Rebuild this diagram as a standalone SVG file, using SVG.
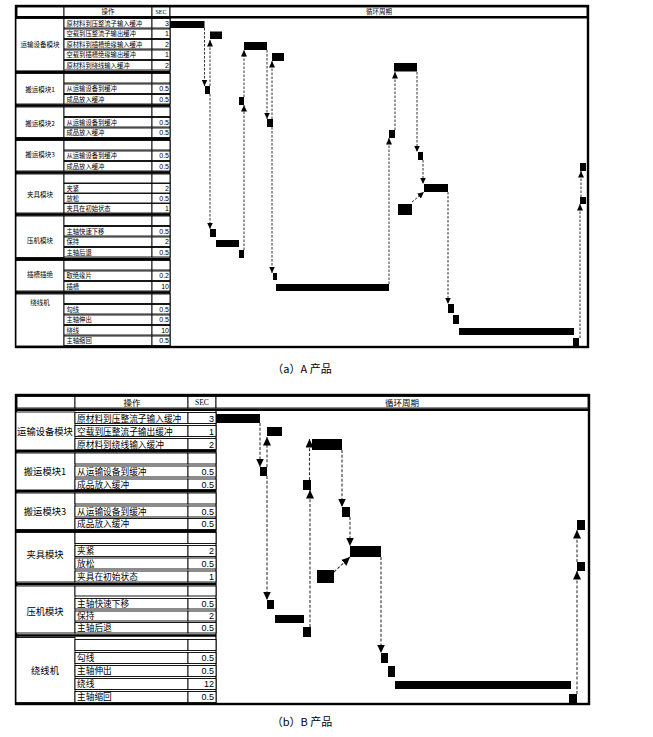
<svg xmlns="http://www.w3.org/2000/svg" width="653" height="737" viewBox="0 0 653 737">
<defs>
<style>
.frame{fill:none;stroke:#000;stroke-width:2.4}
.cell{fill:#fff;stroke:#000;stroke-width:0.9}
.sep{stroke:#000;stroke-width:2.4}
.vl{stroke:#000;stroke-width:1.2}
.bar{fill:#000}
.da{stroke:#333;stroke-width:1;stroke-dasharray:2.5 1.5;fill:none}
.db{stroke:#333;stroke-width:1.1;stroke-dasharray:3 1.8;fill:none}
text{fill:#000}
.ta{font-family:"Noto Sans CJK SC","Noto Sans",sans-serif;font-size:6.3px}
.ga{font-family:"Noto Sans CJK SC","Noto Sans",sans-serif;font-size:6.5px;text-anchor:middle}
.na{font-family:"Liberation Sans",sans-serif;font-size:7px;text-anchor:end}
.ha{font-family:"Noto Sans CJK SC","Noto Sans",sans-serif;font-size:6.5px;text-anchor:middle}
.tb{font-family:"Noto Sans CJK SC","Noto Sans",sans-serif;font-size:8.7px}
.gb{font-family:"Noto Sans CJK SC","Noto Sans",sans-serif;font-size:9.3px;text-anchor:middle}
.nb{font-family:"Liberation Sans",sans-serif;font-size:9px;text-anchor:end}
.hb{font-family:"Noto Sans CJK SC","Noto Sans",sans-serif;font-size:8.5px;text-anchor:middle}
.sec{font-family:"Liberation Serif",serif;text-anchor:middle}
.cap{font-family:"Noto Sans CJK SC",sans-serif;font-size:11px;text-anchor:middle}
</style>
<marker id="ha" markerUnits="userSpaceOnUse" markerWidth="7" markerHeight="6" refX="6.5" refY="3" orient="auto"><path d="M0,0 L6.5,3 L0,6 z" fill="#000"/></marker>
<marker id="hb" markerUnits="userSpaceOnUse" markerWidth="9" markerHeight="8" refX="8.5" refY="4" orient="auto"><path d="M0,0 L8.5,4 L0,8 z" fill="#000"/></marker>
</defs>
<rect width="653" height="737" fill="#fff"/>

<!-- ================= (a) ================= -->
<g id="a-table">
<rect class="frame" x="16" y="6" width="572" height="341"/>
<g id="a-header">
<rect class="cell" x="17" y="7" width="47" height="9.5"/>
<rect class="cell" x="64" y="7" width="88" height="9.5"/>
<rect class="cell" x="152" y="7" width="18" height="9.5"/>
<rect class="cell" x="170" y="7" width="417" height="9.5"/>
<text class="ha" x="108" y="14">操作</text>
<text class="sec" x="161" y="14" font-size="6">SEC</text>
<text class="ha" x="379" y="14">循环周期</text>
<line class="sep" x1="16" y1="17.3" x2="588" y2="17.3" stroke-width="1.8"/>
</g>
<line class="vl" x1="170" y1="17" x2="170" y2="347"/>

<g id="a-g1">
<rect class="cell" x="16" y="18.5" width="48" height="52.5"/>
<text class="ga" x="40" y="47">运输设备模块</text>
<rect class="cell" x="64" y="18.5" width="88" height="9.5"/><rect class="cell" x="152" y="18.5" width="18" height="9.5"/>
<text class="ta" x="66.5" y="25.8">原材料到压整流子输入缓冲</text><text class="na" x="169" y="25.8">3</text>
<rect class="cell" x="64" y="29" width="88" height="9.5"/><rect class="cell" x="152" y="29" width="18" height="9.5"/>
<text class="ta" x="66.5" y="36.3">空载到压整流子输出缓冲</text><text class="na" x="169" y="36.3">1</text>
<rect class="cell" x="64" y="39.5" width="88" height="9.5"/><rect class="cell" x="152" y="39.5" width="18" height="9.5"/>
<text class="ta" x="66.5" y="46.8">原材料到插槽绝缘输入缓冲</text><text class="na" x="169" y="46.8">2</text>
<rect class="cell" x="64" y="50" width="88" height="9.5"/><rect class="cell" x="152" y="50" width="18" height="9.5"/>
<text class="ta" x="66.5" y="57.3">空载到插槽绝缘输出缓冲</text><text class="na" x="169" y="57.3">1</text>
<rect class="cell" x="64" y="60.5" width="88" height="9.5"/><rect class="cell" x="152" y="60.5" width="18" height="9.5"/>
<text class="ta" x="66.5" y="67.8">原材料到绕线输入缓冲</text><text class="na" x="169" y="67.8">2</text>
<line class="sep" x1="16" y1="72" x2="170" y2="72"/>
</g>

<g id="a-g2">
<rect class="cell" x="16" y="73.5" width="48" height="30.5"/>
<text class="ga" x="40" y="92.4">搬运模块1</text>
<rect class="cell" x="64" y="73.5" width="88" height="9.5"/><rect class="cell" x="152" y="73.5" width="18" height="9.5"/>
<rect class="cell" x="64" y="84" width="88" height="9.5"/><rect class="cell" x="152" y="84" width="18" height="9.5"/>
<text class="ta" x="66.5" y="91.3">从运输设备到缓冲</text><text class="na" x="169" y="91.3">0.5</text>
<rect class="cell" x="64" y="94.5" width="88" height="9.5"/><rect class="cell" x="152" y="94.5" width="18" height="9.5"/>
<text class="ta" x="66.5" y="101.8">成品放入缓冲</text><text class="na" x="169" y="101.8">0.5</text>
<line class="sep" x1="16" y1="105.5" x2="170" y2="105.5"/>
</g>

<g id="a-g3">
<rect class="cell" x="16" y="107" width="48" height="30.5"/>
<text class="ga" x="40" y="126">搬运模块2</text>
<rect class="cell" x="64" y="107" width="88" height="9.5"/><rect class="cell" x="152" y="107" width="18" height="9.5"/>
<rect class="cell" x="64" y="117.5" width="88" height="9.5"/><rect class="cell" x="152" y="117.5" width="18" height="9.5"/>
<text class="ta" x="66.5" y="124.8">从运输设备到缓冲</text><text class="na" x="169" y="124.8">0.5</text>
<rect class="cell" x="64" y="128" width="88" height="9.5"/><rect class="cell" x="152" y="128" width="18" height="9.5"/>
<text class="ta" x="66.5" y="135.3">成品放入缓冲</text><text class="na" x="169" y="135.3">0.5</text>
<line class="sep" x1="16" y1="139" x2="170" y2="139"/>
</g>

<g id="a-g4">
<rect class="cell" x="16" y="140.5" width="48" height="30.5"/>
<text class="ga" x="40" y="157.4">搬运模块3</text>
<rect class="cell" x="64" y="140.5" width="88" height="9.5"/><rect class="cell" x="152" y="140.5" width="18" height="9.5"/>
<rect class="cell" x="64" y="151" width="88" height="9.5"/><rect class="cell" x="152" y="151" width="18" height="9.5"/>
<text class="ta" x="66.5" y="158.3">从运输设备到缓冲</text><text class="na" x="169" y="158.3">0.5</text>
<rect class="cell" x="64" y="161.5" width="88" height="9.5"/><rect class="cell" x="152" y="161.5" width="18" height="9.5"/>
<text class="ta" x="66.5" y="168.8">成品放入缓冲</text><text class="na" x="169" y="168.8">0.5</text>
<line class="sep" x1="16" y1="172.5" x2="170" y2="172.5"/>
</g>

<g id="a-g5">
<rect class="cell" x="16" y="174" width="48" height="39"/>
<text class="ga" x="40" y="197.4">夹具模块</text>
<rect class="cell" x="64" y="174" width="88" height="9"/><rect class="cell" x="152" y="174" width="18" height="9"/>
<rect class="cell" x="64" y="183.5" width="88" height="9.5"/><rect class="cell" x="152" y="183.5" width="18" height="9.5"/>
<text class="ta" x="66.5" y="190.8">夹紧</text><text class="na" x="169" y="190.8">2</text>
<rect class="cell" x="64" y="193.5" width="88" height="9.5"/><rect class="cell" x="152" y="193.5" width="18" height="9.5"/>
<text class="ta" x="66.5" y="200.8">放松</text><text class="na" x="169" y="200.8">0.5</text>
<rect class="cell" x="64" y="203.5" width="88" height="9.5"/><rect class="cell" x="152" y="203.5" width="18" height="9.5"/>
<text class="ta" x="66.5" y="210.8">夹具在初始状态</text><text class="na" x="169" y="210.8">1</text>
<line class="sep" x1="16" y1="214.5" x2="170" y2="214.5"/>
</g>

<g id="a-g6">
<rect class="cell" x="16" y="216" width="48" height="41.5"/>
<text class="ga" x="40" y="243.4">压机模块</text>
<rect class="cell" x="64" y="216" width="88" height="9.5"/><rect class="cell" x="152" y="216" width="18" height="9.5"/>
<rect class="cell" x="64" y="226.5" width="88" height="9.5"/><rect class="cell" x="152" y="226.5" width="18" height="9.5"/>
<text class="ta" x="66.5" y="233.8">主轴快速下移</text><text class="na" x="169" y="233.8">0.5</text>
<rect class="cell" x="64" y="237" width="88" height="9.5"/><rect class="cell" x="152" y="237" width="18" height="9.5"/>
<text class="ta" x="66.5" y="244.3">保持</text><text class="na" x="169" y="244.3">2</text>
<rect class="cell" x="64" y="247.5" width="88" height="9.5"/><rect class="cell" x="152" y="247.5" width="18" height="9.5"/>
<text class="ta" x="66.5" y="254.8">主轴后退</text><text class="na" x="169" y="254.8">0.5</text>
<line class="sep" x1="16" y1="259" x2="170" y2="259"/>
</g>

<g id="a-g7">
<rect class="cell" x="16" y="260.5" width="48" height="30.5"/>
<text class="ga" x="40" y="277.4">插槽插绝</text>
<rect class="cell" x="64" y="260.5" width="88" height="9.5"/><rect class="cell" x="152" y="260.5" width="18" height="9.5"/>
<rect class="cell" x="64" y="271" width="88" height="9.5"/><rect class="cell" x="152" y="271" width="18" height="9.5"/>
<text class="ta" x="66.5" y="278.3">取绝缘片</text><text class="na" x="169" y="278.3">0.2</text>
<rect class="cell" x="64" y="281.5" width="88" height="9.5"/><rect class="cell" x="152" y="281.5" width="18" height="9.5"/>
<text class="ta" x="66.5" y="288.8">插槽</text><text class="na" x="169" y="288.8">10</text>
<line class="sep" x1="16" y1="292.5" x2="170" y2="292.5"/>
</g>

<g id="a-g8">
<rect class="cell" x="16" y="294" width="48" height="52"/>
<text class="ga" x="40" y="305">绕线机</text>
<rect class="cell" x="64" y="294" width="88" height="9.5"/><rect class="cell" x="152" y="294" width="18" height="9.5"/>
<rect class="cell" x="64" y="304.5" width="88" height="9.5"/><rect class="cell" x="152" y="304.5" width="18" height="9.5"/>
<text class="ta" x="66.5" y="311.8">勾线</text><text class="na" x="169" y="311.8">0.5</text>
<rect class="cell" x="64" y="315" width="88" height="9.5"/><rect class="cell" x="152" y="315" width="18" height="9.5"/>
<text class="ta" x="66.5" y="322.3">主轴伸出</text><text class="na" x="169" y="322.3">0.5</text>
<rect class="cell" x="64" y="325.5" width="88" height="9.5"/><rect class="cell" x="152" y="325.5" width="18" height="9.5"/>
<text class="ta" x="66.5" y="332.8">绕线</text><text class="na" x="169" y="332.8">10</text>
<rect class="cell" x="64" y="336" width="88" height="9.5"/><rect class="cell" x="152" y="336" width="18" height="9.5"/>
<text class="ta" x="66.5" y="343.3">主轴缩回</text><text class="na" x="169" y="343.3">0.5</text>
</g>
</g>

<g id="a-connectors">
<line class="da" x1="204.5" y1="28" x2="204.5" y2="86" marker-end="url(#ha)"/>
<line class="da" x1="210" y1="86" x2="210" y2="40" marker-end="url(#ha)"/>
<line class="da" x1="210" y1="94" x2="210" y2="229" marker-end="url(#ha)"/>
<line class="da" x1="244" y1="250" x2="244" y2="105" marker-end="url(#ha)"/>
<line class="da" x1="244" y1="97" x2="244" y2="50" marker-end="url(#ha)"/>
<line class="da" x1="267" y1="50" x2="267" y2="119" marker-end="url(#ha)"/>
<line class="da" x1="272" y1="119" x2="272" y2="61" marker-end="url(#ha)"/>
<line class="da" x1="272" y1="127" x2="272" y2="273" marker-end="url(#ha)"/>
<line class="da" x1="389" y1="284" x2="389" y2="138" marker-end="url(#ha)"/>
<line class="da" x1="395" y1="130" x2="395" y2="72" marker-end="url(#ha)"/>
<line class="da" x1="417" y1="72" x2="417" y2="152" marker-end="url(#ha)"/>
<line class="da" x1="423" y1="160" x2="423" y2="184" marker-end="url(#ha)"/>
<line class="da" x1="412" y1="202" x2="424" y2="192" marker-end="url(#ha)"/>
<line class="da" x1="448" y1="192" x2="448" y2="304" marker-end="url(#ha)"/>
<line class="da" x1="580" y1="338" x2="580" y2="204" marker-end="url(#ha)"/>
<line class="da" x1="581" y1="197" x2="581" y2="171" marker-end="url(#ha)"/>
</g>

<g id="a-bars">
<g id="a-b1"><rect class="bar" x="170" y="21" width="34.5" height="7"/></g>
<g id="a-b2"><rect class="bar" x="210" y="31.5" width="12" height="7.5"/></g>
<g id="a-b3"><rect class="bar" x="244" y="42" width="23" height="8"/></g>
<g id="a-b4"><rect class="bar" x="272" y="53" width="12" height="8"/></g>
<g id="a-b5"><rect class="bar" x="394" y="63" width="23" height="8.5"/></g>
<g id="a-b6"><rect class="bar" x="205" y="86" width="5" height="8"/></g>
<g id="a-b7"><rect class="bar" x="239" y="97" width="5" height="8"/></g>
<g id="a-b8"><rect class="bar" x="267" y="119" width="6" height="8"/></g>
<g id="a-b9"><rect class="bar" x="389" y="130" width="6" height="8"/></g>
<g id="a-b10"><rect class="bar" x="418" y="152" width="5" height="8"/></g>
<g id="a-b11"><rect class="bar" x="580" y="163" width="6" height="8"/></g>
<g id="a-b12"><rect class="bar" x="424" y="184" width="24" height="8"/></g>
<g id="a-b13"><rect class="bar" x="580" y="197" width="6" height="7"/></g>
<g id="a-b14"><rect class="bar" x="398" y="204" width="14" height="11"/></g>
<g id="a-b15"><rect class="bar" x="210" y="229" width="6" height="8"/></g>
<g id="a-b16"><rect class="bar" x="216" y="240" width="23" height="7"/></g>
<g id="a-b17"><rect class="bar" x="239" y="250" width="5" height="8"/></g>
<g id="a-b18"><rect class="bar" x="273" y="273" width="4" height="7"/></g>
<g id="a-b19"><rect class="bar" x="276" y="284" width="113" height="7"/></g>
<g id="a-b20"><rect class="bar" x="448" y="304" width="6" height="9"/></g>
<g id="a-b21"><rect class="bar" x="453" y="315" width="6" height="9"/></g>
<g id="a-b22"><rect class="bar" x="459" y="328" width="115" height="7"/></g>
<g id="a-b23"><rect class="bar" x="573" y="338" width="6" height="8.5"/></g>
</g>

<text class="cap" x="302" y="373">（a）A 产品</text>

<!-- ================= (b) ================= -->
<g id="b-table">
<rect class="frame" x="16" y="395" width="573" height="309"/>
<g id="b-header">
<rect class="cell" x="17" y="396.5" width="58" height="11.5"/>
<rect class="cell" x="75" y="396.5" width="113" height="11.5"/>
<rect class="cell" x="188" y="396.5" width="28" height="11.5"/>
<rect class="cell" x="216" y="396.5" width="372" height="11.5"/>
<text class="hb" x="132" y="405.5">操作</text>
<text class="sec" x="202" y="405.3" font-size="7.5">SEC</text>
<text class="hb" x="402" y="405.5">循环周期</text>
<line class="sep" x1="16" y1="409.8" x2="589" y2="409.8" stroke-width="2"/>
</g>
<line class="vl" x1="216" y1="410" x2="216" y2="704"/>

<g id="b-g1">
<rect class="cell" x="16" y="412" width="59" height="38"/>
<text class="gb" x="45" y="435.3">运输设备模块</text>
<rect class="cell" x="75" y="412.5" width="113" height="11"/><rect class="cell" x="188" y="412.5" width="28" height="11"/>
<text class="tb" x="77" y="421.5">原材料到压整流子输入缓冲</text><text class="nb" x="214" y="421.5">3</text>
<rect class="cell" x="75" y="425.5" width="113" height="11"/><rect class="cell" x="188" y="425.5" width="28" height="11"/>
<text class="tb" x="77" y="434.5">空载到压整流子输出缓冲</text><text class="nb" x="214" y="434.5">1</text>
<rect class="cell" x="75" y="438.5" width="113" height="11"/><rect class="cell" x="188" y="438.5" width="28" height="11"/>
<text class="tb" x="77" y="447.5">原材料到绕线输入缓冲</text><text class="nb" x="214" y="447.5">2</text>
<line class="sep" x1="16" y1="451.3" x2="216" y2="451.3"/>
</g>

<g id="b-g2">
<rect class="cell" x="16" y="453" width="59" height="37"/>
<text class="gb" x="45" y="475.3">搬运模块1</text>
<rect class="cell" x="75" y="453" width="113" height="11"/><rect class="cell" x="188" y="453" width="28" height="11"/>
<rect class="cell" x="75" y="466" width="113" height="11"/><rect class="cell" x="188" y="466" width="28" height="11"/>
<text class="tb" x="77" y="475">从运输设备到缓冲</text><text class="nb" x="214" y="475">0.5</text>
<rect class="cell" x="75" y="479" width="113" height="10.5"/><rect class="cell" x="188" y="479" width="28" height="10.5"/>
<text class="tb" x="77" y="487.8">成品放入缓冲</text><text class="nb" x="214" y="487.8">0.5</text>
<line class="sep" x1="16" y1="491.3" x2="216" y2="491.3"/>
</g>

<g id="b-g3">
<rect class="cell" x="16" y="493" width="59" height="36.5"/>
<text class="gb" x="45" y="515.3">搬运模块3</text>
<rect class="cell" x="75" y="493" width="113" height="11"/><rect class="cell" x="188" y="493" width="28" height="11"/>
<rect class="cell" x="75" y="506" width="113" height="11"/><rect class="cell" x="188" y="506" width="28" height="11"/>
<text class="tb" x="77" y="515">从运输设备到缓冲</text><text class="nb" x="214" y="515">0.5</text>
<rect class="cell" x="75" y="518.5" width="113" height="11"/><rect class="cell" x="188" y="518.5" width="28" height="11"/>
<text class="tb" x="77" y="527.3">成品放入缓冲</text><text class="nb" x="214" y="527.3">0.5</text>
<line class="sep" x1="16" y1="531" x2="216" y2="531"/>
</g>

<g id="b-g4">
<rect class="cell" x="16" y="532.5" width="59" height="49.5"/>
<text class="gb" x="45" y="558.3">夹具模块</text>
<rect class="cell" x="75" y="532.5" width="113" height="11"/><rect class="cell" x="188" y="532.5" width="28" height="11"/>
<rect class="cell" x="75" y="545.5" width="113" height="11"/><rect class="cell" x="188" y="545.5" width="28" height="11"/>
<text class="tb" x="77" y="554.3">夹紧</text><text class="nb" x="214" y="554.3">2</text>
<rect class="cell" x="75" y="558" width="113" height="11"/><rect class="cell" x="188" y="558" width="28" height="11"/>
<text class="tb" x="77" y="566.8">放松</text><text class="nb" x="214" y="566.8">0.5</text>
<rect class="cell" x="75" y="571" width="113" height="11"/><rect class="cell" x="188" y="571" width="28" height="11"/>
<text class="tb" x="77" y="579.8">夹具在初始状态</text><text class="nb" x="214" y="579.8">1</text>
<line class="sep" x1="16" y1="584" x2="216" y2="584"/>
</g>

<g id="b-g5">
<rect class="cell" x="16" y="586" width="59" height="47"/>
<text class="gb" x="45" y="615.3">压机模块</text>
<rect class="cell" x="75" y="586" width="113" height="10"/><rect class="cell" x="188" y="586" width="28" height="10"/>
<rect class="cell" x="75" y="598.5" width="113" height="10.5"/><rect class="cell" x="188" y="598.5" width="28" height="10.5"/>
<text class="tb" x="77" y="607">主轴快速下移</text><text class="nb" x="214" y="607">0.5</text>
<rect class="cell" x="75" y="611" width="113" height="10"/><rect class="cell" x="188" y="611" width="28" height="10"/>
<text class="tb" x="77" y="619.3">保持</text><text class="nb" x="214" y="619.3">2</text>
<rect class="cell" x="75" y="622.5" width="113" height="10.5"/><rect class="cell" x="188" y="622.5" width="28" height="10.5"/>
<text class="tb" x="77" y="631">主轴后退</text><text class="nb" x="214" y="631">0.5</text>
<line class="sep" x1="16" y1="635.5" x2="216" y2="635.5"/>
</g>

<g id="b-g6">
<rect class="cell" x="16" y="637.5" width="59" height="65"/>
<text class="gb" x="45" y="674.3">绕线机</text>
<rect class="cell" x="75" y="639.5" width="113" height="11"/><rect class="cell" x="188" y="639.5" width="28" height="11"/>
<rect class="cell" x="75" y="652.5" width="113" height="11"/><rect class="cell" x="188" y="652.5" width="28" height="11"/>
<text class="tb" x="77" y="661.3">勾线</text><text class="nb" x="214" y="661.3">0.5</text>
<rect class="cell" x="75" y="665.5" width="113" height="11"/><rect class="cell" x="188" y="665.5" width="28" height="11"/>
<text class="tb" x="77" y="674.3">主轴伸出</text><text class="nb" x="214" y="674.3">0.5</text>
<rect class="cell" x="75" y="678.5" width="113" height="11"/><rect class="cell" x="188" y="678.5" width="28" height="11"/>
<text class="tb" x="77" y="687.3">绕线</text><text class="nb" x="214" y="687.3">12</text>
<rect class="cell" x="75" y="691.5" width="113" height="11"/><rect class="cell" x="188" y="691.5" width="28" height="11"/>
<text class="tb" x="77" y="700.3">主轴缩回</text><text class="nb" x="214" y="700.3">0.5</text>
</g>
</g>

<g id="b-connectors">
<line class="db" x1="260" y1="423" x2="260" y2="467" marker-end="url(#hb)"/>
<line class="db" x1="267" y1="467" x2="267" y2="437" marker-end="url(#hb)"/>
<line class="db" x1="267" y1="476" x2="267" y2="600" marker-end="url(#hb)"/>
<line class="db" x1="310" y1="627" x2="310" y2="490" marker-end="url(#hb)"/>
<line class="db" x1="309.5" y1="480" x2="309.5" y2="439" marker-end="url(#hb)"/>
<line class="db" x1="342" y1="450" x2="342" y2="507" marker-end="url(#hb)"/>
<line class="db" x1="350" y1="517" x2="350" y2="546" marker-end="url(#hb)"/>
<line class="db" x1="334" y1="572" x2="350" y2="557" marker-end="url(#hb)"/>
<line class="db" x1="381" y1="557" x2="381" y2="653" marker-end="url(#hb)"/>
<line class="db" x1="577" y1="694" x2="577" y2="571" marker-end="url(#hb)"/>
<line class="db" x1="577" y1="562" x2="577" y2="530" marker-end="url(#hb)"/>
</g>

<g id="b-bars">
<g id="b-b1"><rect class="bar" x="216" y="414" width="44" height="9"/></g>
<g id="b-b2"><rect class="bar" x="267" y="427" width="15" height="9"/></g>
<g id="b-b3"><rect class="bar" x="312" y="439" width="30" height="11"/></g>
<g id="b-b4"><rect class="bar" x="260" y="467" width="7" height="9"/></g>
<g id="b-b5"><rect class="bar" x="303" y="480" width="8" height="10"/></g>
<g id="b-b6"><rect class="bar" x="342" y="507" width="8" height="10"/></g>
<g id="b-b7"><rect class="bar" x="577" y="520" width="8" height="10"/></g>
<g id="b-b8"><rect class="bar" x="350" y="546" width="31" height="11"/></g>
<g id="b-b9"><rect class="bar" x="577" y="562" width="8" height="9"/></g>
<g id="b-b10"><rect class="bar" x="317" y="570" width="17" height="13"/></g>
<g id="b-b11"><rect class="bar" x="267" y="600" width="7" height="9"/></g>
<g id="b-b12"><rect class="bar" x="275" y="615" width="29" height="8"/></g>
<g id="b-b13"><rect class="bar" x="303" y="627" width="8" height="10"/></g>
<g id="b-b14"><rect class="bar" x="381" y="653" width="7" height="10"/></g>
<g id="b-b15"><rect class="bar" x="388" y="666" width="7" height="11"/></g>
<g id="b-b16"><rect class="bar" x="395" y="681" width="176" height="8"/></g>
<g id="b-b17"><rect class="bar" x="569" y="694" width="8" height="9"/></g>
</g>

<text class="cap" x="302" y="726">（b）B 产品</text>
</svg>
